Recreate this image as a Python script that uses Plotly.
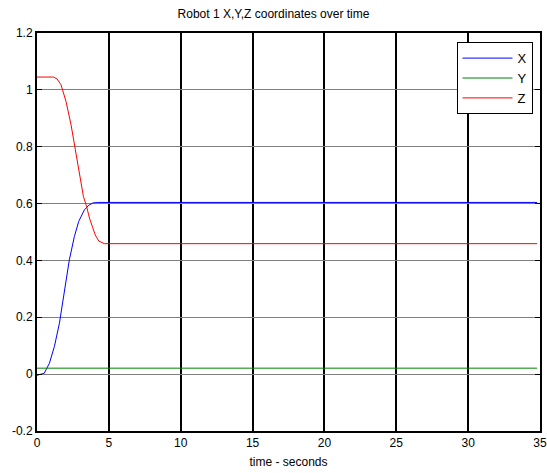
import plotly.graph_objects as go

# ---- data ----
t_x = [0, 0.5, 0.86, 1.21, 1.56, 1.9, 2.25, 2.6, 2.9, 3.3, 3.6, 3.88, 4.2, 34.8]
x_vals = [-0.004, 0.003, 0.038, 0.097, 0.179, 0.285, 0.402, 0.484, 0.537, 0.578, 0.594, 0.602, 0.604, 0.604]

t_y = [0, 34.8]
y_vals = [0.021, 0.021]

t_z = [0, 1.15, 1.4, 1.67, 2.02, 2.37, 2.67, 2.95, 3.23, 3.45, 3.65, 3.88, 4.05, 4.3, 4.69, 34.8]
z_vals = [1.045, 1.045, 1.038, 1.018, 0.959, 0.877, 0.789, 0.707, 0.625, 0.59, 0.549, 0.515, 0.49, 0.468, 0.459, 0.459]

x_ticks = [0, 5, 10, 15, 20, 25, 30, 35]
x_ticklabels = ["0", "5", "10", "15", "20", "25", "30", "35"]
y_ticks = [-0.2, 0, 0.2, 0.4, 0.6, 0.8, 1.0, 1.2]
y_ticklabels = ["-0.2", "0", "0.2", "0.4", "0.6", "0.8", "1", "1.2"]

fig = go.Figure()
fig.add_trace(go.Scatter(x=t_x, y=x_vals, mode="lines", name="X",
                         line=dict(color="#0000FF", width=1)))
fig.add_trace(go.Scatter(x=t_y, y=y_vals, mode="lines", name="Y",
                         line=dict(color="#008000", width=1)))
fig.add_trace(go.Scatter(x=t_z, y=z_vals, mode="lines", name="Z",
                         line=dict(color="#FF0000", width=1)))

font = "Liberation Sans, Arial, sans-serif"
fig.update_layout(
    width=547, height=473,
    margin=dict(l=37, r=7, t=33, b=42, autoexpand=False),
    paper_bgcolor="white", plot_bgcolor="white",
    font=dict(family=font, size=12, color="black"),
    title=dict(text="Robot 1 X,Y,Z coordinates over time", x=0.5, xanchor="center",
               y=1 - 14 / 473, yanchor="middle", font=dict(size=12, color="black")),
    showlegend=True,
    legend=dict(x=0.834, y=0.977, xanchor="left", yanchor="top",
                bgcolor="white", bordercolor="black", borderwidth=1,
                font=dict(size=13, color="black"), tracegroupgap=0,
                itemwidth=50),
    xaxis=dict(range=[0, 35], tickvals=x_ticks, ticktext=x_ticklabels,
               showgrid=True, gridcolor="black", gridwidth=2,
               showline=True, linecolor="black", linewidth=2, mirror="allticks",
               zeroline=False, ticks="inside", ticklen=5, tickcolor="black",
               automargin=False,
               title=dict(text="time - seconds", standoff=8, font=dict(size=12))),
    yaxis=dict(range=[-0.2, 1.2], tickvals=y_ticks, ticktext=y_ticklabels,
               showgrid=True, gridcolor="#808080", gridwidth=1,
               showline=True, linecolor="black", linewidth=2, mirror="allticks",
               zeroline=False, ticks="inside", ticklen=5, tickcolor="black",
               automargin=False),
)

fig.write_html("out.html", config={"displayModeBar": False},
               post_script="document.body.style.margin='0px';")
